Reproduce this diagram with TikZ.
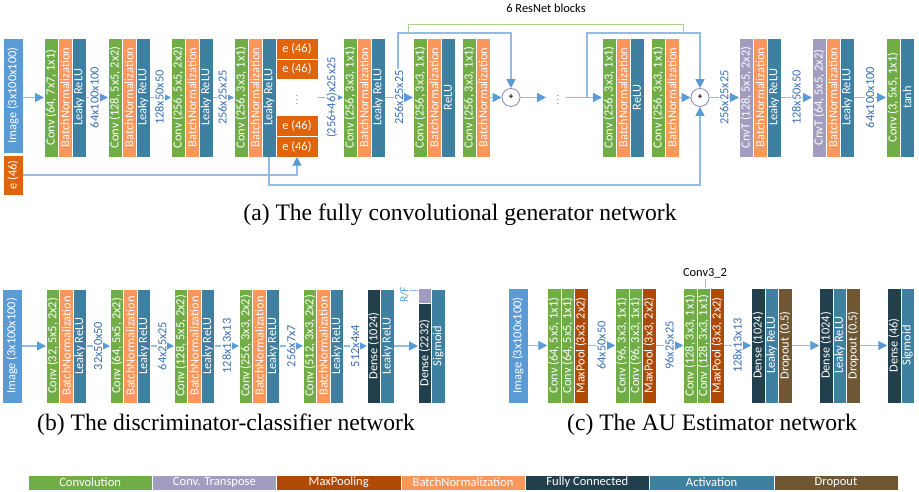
\documentclass[tikz,border=0pt]{standalone}
\usepackage{graphicx}
\usepackage{fontspec}
\setmainfont{Carlito}
\newfontfamily\capfont{Liberation Serif}
\usetikzlibrary{arrows.meta}
\definecolor{convgreen}{HTML}{70AD47}
\definecolor{cnvtpurple}{HTML}{A29CC0}
\definecolor{maxpoolc}{HTML}{AE4A06}
\definecolor{bnorange}{HTML}{F8965B}
\definecolor{fcdark}{HTML}{213F4D}
\definecolor{actblue}{HTML}{3F7F9F}
\definecolor{dropbrown}{HTML}{6F5734}
\definecolor{imgblue}{HTML}{5B9BD5}
\definecolor{eorange}{HTML}{E2640A}
\definecolor{dimtext}{HTML}{3A6FB5}
\definecolor{lineblue}{HTML}{94BBE3}
\definecolor{arrowblue}{HTML}{5B9BD5}
\definecolor{pluscol}{HTML}{8C84B2}
\definecolor{bracketgreen}{HTML}{A9D18E}
\newcommand\rotlbl[1]{\rotatebox{90}{#1}}
\begin{document}
\begin{tikzpicture}[x=1pt,y=-1pt,
  blk/.style={inner sep=0pt, outer sep=0pt, text=white, draw=white, line width=0.4pt,
    font=\fontsize{12.4}{13}\selectfont},
  hT/.style={minimum width=14pt, minimum height=119pt},
  hB/.style={minimum width=13.5pt, minimum height=114pt},
  hC/.style={minimum width=13.5pt, minimum height=115pt},
  cv/.style={blk, fill=convgreen},
  ct/.style={blk, fill=cnvtpurple},
  mp/.style={blk, fill=maxpoolc},
  bn/.style={blk, fill=bnorange},
  fc/.style={blk, fill=fcdark},
  ac/.style={blk, fill=actblue},
  dr/.style={blk, fill=dropbrown},
  ebox/.style={blk, fill=eorange, minimum width=42pt, minimum height=20.5pt},
  arr/.style={draw=lineblue, line width=1.2pt, -{Triangle[length=9pt,width=9pt,color=arrowblue]}},
  dimlbl/.style={fill=white, inner sep=1pt, text=dimtext, font=\fontsize{12.4}{13}\selectfont},
  plusn/.style={circle, draw=pluscol, fill=white, minimum size=18pt, inner sep=0pt, line width=0.8pt, font=\fontsize{9}{9}\selectfont\bfseries},
  captxt/.style={font=\capfont\fontsize{23.6}{26}\selectfont},
  legbox/.style={blk, minimum width=124.3pt, minimum height=15pt, font=\fontsize{12.6}{13}\selectfont},
]
\useasboundingbox (0,0) rectangle (919,492);

% ---------------- (a) generator ----------------
\node[blk, fill=imgblue, minimum width=20pt, minimum height=115pt] (img) at (13,95.5) {\rotlbl{Image (3x100x100)}};
\node[blk, fill=eorange, minimum width=20pt, minimum height=40pt] (ein) at (13,175) {\rotlbl{e (46)}};

\node[cv,hT] (g1a) at (51,97.5) {\rotlbl{Conv (64, 7x7, 1x1)}};
\node[bn,hT] (g1b) at (65,97.5) {\rotlbl{BatchNormalization}};
\node[ac,hT] (g1c) at (79,97.5) {\rotlbl{Leaky ReLU}};

\node[cv,hT] (g2a) at (115,97.5) {\rotlbl{Conv (128, 5x5, 2x2)}};
\node[bn,hT] (g2b) at (129,97.5) {\rotlbl{BatchNormalization}};
\node[ac,hT] (g2c) at (143,97.5) {\rotlbl{Leaky ReLU}};

\node[cv,hT] (g3a) at (178,97.5) {\rotlbl{Conv (256, 5x5, 2x2)}};
\node[bn,hT] (g3b) at (192,97.5) {\rotlbl{BatchNormalization}};
\node[ac,hT] (g3c) at (206,97.5) {\rotlbl{Leaky ReLU}};

\node[cv,hT] (g4a) at (241,97.5) {\rotlbl{Conv (256, 3x3, 1x1)}};
\node[bn,hT] (g4b) at (255,97.5) {\rotlbl{BatchNormalization}};
\node[ac,hT] (g4c) at (269,97.5) {\rotlbl{Leaky ReLU}};

\node[ebox] (e1) at (297,48.5) {e (46)};
\node[ebox] (e2) at (297,69) {e (46)};
\node[inner sep=0pt, font=\scriptsize] (edots) at (297,97) {$\vdots$};
\node[ebox] (e3) at (297,125.5) {e (46)};
\node[ebox] (e4) at (297,146.5) {e (46)};
\coordinate (ecolR) at (318,97.5);

\node[cv,hT] (g5a) at (350,97.5) {\rotlbl{Conv (256, 3x3, 1x1)}};
\node[bn,hT] (g5b) at (364,97.5) {\rotlbl{BatchNormalization}};
\node[ac,hT] (g5c) at (378,97.5) {\rotlbl{Leaky ReLU}};

\node[cv,hT] (g6a) at (420,97.5) {\rotlbl{Conv (256, 3x3, 1x1)}};
\node[bn,hT] (g6b) at (434,97.5) {\rotlbl{BatchNormalization}};
\node[ac,hT] (g6c) at (448,97.5) {\rotlbl{ReLU}};

\node[cv,hT] (g7a) at (469,97.5) {\rotlbl{Conv (256, 3x3, 1x1)}};
\node[bn,hT] (g7b) at (483,97.5) {\rotlbl{BatchNormalization}};

\node[plusn] (plus1) at (511,97.5) {+};

\node[inner sep=0pt, font=\scriptsize] (rdots) at (558,97) {$\vdots$};
\coordinate (a1end) at (546,97.5);
\coordinate (d2r) at (566,97.5);

\node[cv,hT] (g8a) at (609,97.5) {\rotlbl{Conv (256, 3x3, 1x1)}};
\node[bn,hT] (g8b) at (623,97.5) {\rotlbl{BatchNormalization}};
\node[ac,hT] (g8c) at (637,97.5) {\rotlbl{ReLU}};

\node[cv,hT] (g9a) at (658,97.5) {\rotlbl{Conv (256, 3x3, 1x1)}};
\node[bn,hT] (g9b) at (672,97.5) {\rotlbl{BatchNormalization}};

\node[plusn] (plus2) at (700,97.5) {+};

\node[ct,hT] (g10a) at (746,97.5) {\rotlbl{CnvT (128, 5x5, 2x2)}};
\node[bn,hT] (g10b) at (760,97.5) {\rotlbl{BatchNormalization}};
\node[ac,hT] (g10c) at (774,97.5) {\rotlbl{Leaky ReLU}};

\node[ct,hT] (g11a) at (819,97.5) {\rotlbl{CnvT (64, 5x5, 2x2)}};
\node[bn,hT] (g11b) at (833,97.5) {\rotlbl{BatchNormalization}};
\node[ac,hT] (g11c) at (847,97.5) {\rotlbl{Leaky ReLU}};

\node[cv,hT] (g12a) at (893,97.5) {\rotlbl{Conv (3, 5x5, 1x1)}};
\node[ac,hT] (g12b) at (907,97.5) {\rotlbl{tanh}};

% skip connections (drawn first)
\coordinate (s1) at (398,97.5);
\coordinate (top1) at (398,33);
\coordinate (s2) at (587,97.5);
\coordinate (top2) at (587,33);
\coordinate (bot) at (0,185);
\draw[arr] (s1) -- (top1) -| (plus1.north);
\draw[arr] (s2) -- (top2) -| (plus2.north);
\draw[arr] (g4c.south) -- (g4c.south |- bot) -| (plus2.south);
\draw[arr] (ein.east) -| (e4.south);

% resnet bracket
\draw[draw=bracketgreen, line width=1pt] (408,33) -- (408,25) -- (683,25) -- (683,33);
\node[font=\fontsize{12.4}{13}\selectfont] (resn) at (546,8) {6 ResNet blocks};

% main flow
\draw[arr] (img.east |- g1a.west) -- (g1a.west);
\draw[arr] (g1c.east) -- (g2a.west) node[pos=0.38, dimlbl] (l1) {\rotlbl{64x100x100}};
\draw[arr] (g2c.east) -- (g3a.west) node[pos=0.45, dimlbl] (l2) {\rotlbl{128x50x50}};
\draw[arr] (g3c.east) -- (g4a.west) node[pos=0.45, dimlbl] (l3) {\rotlbl{256x25x25}};
\draw[arr] (ecolR) -- (g5a.west) node[pos=0.55, dimlbl] (l4) {\rotlbl{(256+46)x25x25}};
\draw[arr] (g5c.east) -- (g6a.west) node[pos=0.5, dimlbl] (l5) {\rotlbl{256x25x25}};
\draw[arr] (g7b.east) -- (plus1.west);
\draw[arr] (plus1.east) -- (a1end);
\draw[arr] (d2r) -- (g8a.west);
\draw[arr] (g9b.east) -- (plus2.west);
\draw[arr] (plus2.east) -- (g10a.west) node[midway, dimlbl] (l6) {\rotlbl{256x25x25}};
\draw[arr] (g10c.east) -- (g11a.west) node[midway, dimlbl] (l7) {\rotlbl{128x50x50}};
\draw[arr] (g11c.east) -- (g12a.west) node[midway, dimlbl] (l8) {\rotlbl{64x100x100}};

\node[captxt] (capa) at (460,215) {(a) The fully convolutional generator network};

% ---------------- (b) discriminator ----------------
\node[blk, fill=imgblue, minimum width=20pt, minimum height=114pt] (bimg) at (12,346) {\rotlbl{Image (3x100x100)}};

\node[cv,hB] (b1a) at (52.75,346) {\rotlbl{Conv (32, 5x5, 2x2)}};
\node[bn,hB] (b1b) at (66.25,346) {\rotlbl{BatchNormalization}};
\node[ac,hB] (b1c) at (79.75,346) {\rotlbl{Leaky ReLU}};

\node[cv,hB] (b2a) at (116.75,346) {\rotlbl{Conv (64, 5x5, 2x2)}};
\node[bn,hB] (b2b) at (130.25,346) {\rotlbl{BatchNormalization}};
\node[ac,hB] (b2c) at (143.75,346) {\rotlbl{Leaky ReLU}};

\node[cv,hB] (b3a) at (180.75,346) {\rotlbl{Conv (128, 5x5, 2x2)}};
\node[bn,hB] (b3b) at (194.25,346) {\rotlbl{BatchNormalization}};
\node[ac,hB] (b3c) at (207.75,346) {\rotlbl{Leaky ReLU}};

\node[cv,hB] (b4a) at (245.75,346) {\rotlbl{Conv (256, 3x3, 2x2)}};
\node[bn,hB] (b4b) at (259.25,346) {\rotlbl{BatchNormalization}};
\node[ac,hB] (b4c) at (272.75,346) {\rotlbl{Leaky ReLU}};

\node[cv,hB] (b5a) at (309.75,346) {\rotlbl{Conv (512, 3x3, 2x2)}};
\node[bn,hB] (b5b) at (323.25,346) {\rotlbl{BatchNormalization}};
\node[ac,hB] (b5c) at (336.75,346) {\rotlbl{Leaky ReLU}};

\node[fc,hB] (b6a) at (373.75,346) {\rotlbl{Dense (1024)}};
\node[ac,hB] (b6b) at (387.25,346) {\rotlbl{Leaky ReLU}};

\node[blk, fill=cnvtpurple, minimum width=13.5pt, minimum height=15pt] (bpur) at (424.75,295.5) {};
\node[blk, fill=fcdark, minimum width=13.5pt, minimum height=100pt] (b7a) at (424.75,353) {\rotlbl{Dense (2232)}};
\node[ac,hB] (b7b) at (438.25,346) {\rotlbl{Sigmoid}};

\node[text=arrowblue, inner sep=0pt, font=\fontsize{11.5}{12}\selectfont] (rf) at (404,295) {\rotlbl{R/F}};
\coordinate (rftick) at (409,290);
\draw[draw=lineblue, line width=0.8pt] (rftick) -- (rftick -| bpur.west);

\draw[arr] (bimg.east) -- (b1a.west);
\draw[arr] (b1c.east) -- (b2a.west) node[midway, dimlbl] (bl1) {\rotlbl{32x50x50}};
\draw[arr] (b2c.east) -- (b3a.west) node[midway, dimlbl] (bl2) {\rotlbl{64x25x25}};
\draw[arr] (b3c.east) -- (b4a.west) node[midway, dimlbl] (bl3) {\rotlbl{128x13x13}};
\draw[arr] (b4c.east) -- (b5a.west) node[midway, dimlbl] (bl4) {\rotlbl{256x7x7}};
\draw[arr] (b5c.east) -- (b6a.west) node[midway, dimlbl] (bl5) {\rotlbl{512x4x4}};
\draw[arr] (b6b.east) -- (b6b.east -| b7a.west);

\node[captxt] (capb) at (226,425) {(b) The discriminator-classifier network};

% ---------------- (c) AU estimator ----------------
\node[blk, fill=imgblue, minimum width=20pt, minimum height=115pt] (cimg) at (518,345.5) {\rotlbl{Image (3x100x100)}};

\node[cv,hC] (c1a) at (554,345.5) {\rotlbl{Conv (64, 5x5, 1x1)}};
\node[cv,hC] (c1b) at (567.5,345.5) {\rotlbl{Conv (64, 5x5, 1x1)}};
\node[mp,hC] (c1c) at (581,345.5) {\rotlbl{MaxPool (3x3, 2x2)}};

\node[cv,hC] (c2a) at (622,345.5) {\rotlbl{Conv (96, 3x3, 1x1)}};
\node[cv,hC] (c2b) at (635.5,345.5) {\rotlbl{Conv (96, 3x3, 1x1)}};
\node[mp,hC] (c2c) at (649,345.5) {\rotlbl{MaxPool (3x3, 2x2)}};

\node[cv,hC] (c3a) at (690,345.5) {\rotlbl{Conv (128, 3x3, 1x1)}};
\node[cv,hC] (c3b) at (703.5,345.5) {\rotlbl{Conv (128, 3x3, 1x1)}};
\node[mp,hC] (c3c) at (717,345.5) {\rotlbl{MaxPool (3x3, 2x2)}};

\node[fc,hC] (c4a) at (758,345.5) {\rotlbl{Dense (1024)}};
\node[ac,hC] (c4b) at (771.5,345.5) {\rotlbl{Leaky ReLU}};
\node[dr,hC] (c4c) at (785,345.5) {\rotlbl{Dropout (0.5)}};

\node[fc,hC] (c5a) at (826,345.5) {\rotlbl{Dense (1024)}};
\node[ac,hC] (c5b) at (839.5,345.5) {\rotlbl{Leaky ReLU}};
\node[dr,hC] (c5c) at (853,345.5) {\rotlbl{Dropout (0.5)}};

\node[fc,hC] (c6a) at (894,345.5) {\rotlbl{Dense (46)}};
\node[ac,hC] (c6b) at (907.5,345.5) {\rotlbl{Sigmoid}};

\node[font=\fontsize{12.4}{13}\selectfont, inner sep=1pt] (c32) at (705,273) {Conv3\_2};
\draw[draw=lineblue, line width=0.8pt] (c32.south) -- (c32.south |- c3b.north);

\draw[arr] (cimg.east) -- (c1a.west);
\draw[arr] (c1c.east) -- (c2a.west) node[midway, dimlbl] (cl1) {\rotlbl{64x50x50}};
\draw[arr] (c2c.east) -- (c3a.west) node[midway, dimlbl] (cl2) {\rotlbl{96x25x25}};
\draw[arr] (c3c.east) -- (c4a.west) node[midway, dimlbl] (cl3) {\rotlbl{128x13x13}};
\draw[arr] (c4c.east) -- (c5a.west);
\draw[arr] (c5c.east) -- (c6a.west);

\node[captxt] (capc) at (712,425) {(c) The AU Estimator network};

% ---------------- legend ----------------
\node[legbox, fill=convgreen] (k1) at (90.15,482.5) {Convolution};
\node[legbox, fill=cnvtpurple] (k2) at (214.45,482.5) {Conv. Transpose};
\node[legbox, fill=maxpoolc] (k3) at (338.75,482.5) {MaxPooling};
\node[legbox, fill=bnorange] (k4) at (463.05,482.5) {BatchNormalization};
\node[legbox, fill=fcdark] (k5) at (587.35,482.5) {Fully Connected};
\node[legbox, fill=actblue] (k6) at (711.65,482.5) {Activation};
\node[legbox, fill=dropbrown] (k7) at (835.95,482.5) {Dropout};
\end{tikzpicture}
\end{document}
